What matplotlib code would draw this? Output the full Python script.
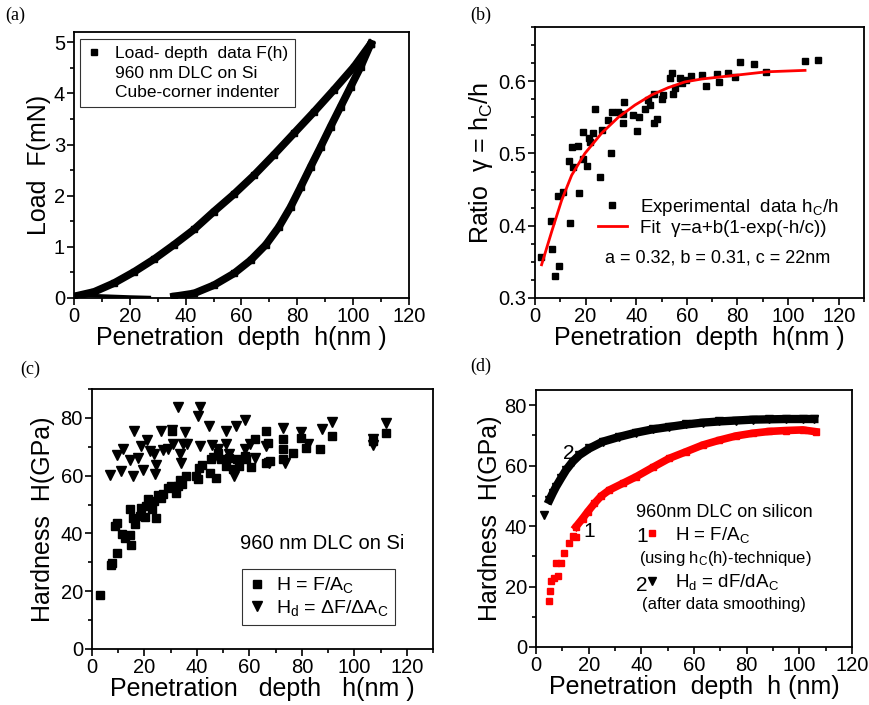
import matplotlib.pyplot as plt
from matplotlib.lines import Line2D
from matplotlib.ticker import MultipleLocator

plt.rcParams['font.family'] = ['Liberation Sans', 'DejaVu Sans']
plt.rcParams['mathtext.fontset'] = 'custom'
plt.rcParams['mathtext.rm'] = 'Liberation Sans'
plt.rcParams['mathtext.it'] = 'Liberation Sans:italic'
plt.rcParams['mathtext.default'] = 'regular'

# ---- (a) load-depth curve
load_h = [0, 7.2, 14.3, 21.5, 28.7, 35.8, 43.0, 50.1, 57.3, 64.5, 71.6, 78.8, 86.0, 93.1, 100.3, 106.3]
load_F = [0.03, 0.12, 0.29, 0.51, 0.76, 1.04, 1.34, 1.69, 2.03, 2.40, 2.80, 3.22, 3.64, 4.07, 4.52, 4.97]
unload_h = [106.3, 102.7, 99.1, 95.5, 91.9, 88.4, 84.8, 81.2, 77.6, 73.4, 68.7, 63.3, 57.3, 50.1, 43.0, 35.8]
unload_F = [4.97, 4.52, 4.13, 3.74, 3.35, 2.96, 2.57, 2.17, 1.78, 1.39, 1.04, 0.74, 0.48, 0.25, 0.09, 0.03]
tail_h = [0, 5, 10, 15, 20, 27]
tail_F = [0.03, 0.05, 0.04, 0.03, 0.02, 0.01]

# ---- (b) ratio hc/h
ratio_h = [2.4, 6.2, 6.7, 7.9, 9.6, 8.9, 11.2, 13.8, 13.4, 14.5, 14.9, 16.8, 17.4, 18.8, 19.1,
           20.6, 21.2, 21.7, 23.0, 23.8, 25.6, 26.3, 28.9, 29.9, 30.6, 32.9, 34.6, 35.1, 34.6,
           38.8, 40.4, 41.1, 43.4, 44.7, 45.3, 47.1, 47.1, 48.4, 50.3, 50.6, 53.5, 54.3, 54.6,
           55.3, 57.4, 58.1, 59.8, 61.8, 66.1, 67.4, 71.9, 72.7, 76.2, 78.9, 81.1, 86.4, 91.4,
           106.5, 112.0]
ratio_g = [0.357, 0.407, 0.368, 0.330, 0.344, 0.441, 0.446, 0.404, 0.490, 0.509, 0.481, 0.510,
           0.445, 0.492, 0.530, 0.482, 0.521, 0.516, 0.528, 0.562, 0.468, 0.532, 0.546, 0.501,
           0.558, 0.558, 0.542, 0.571, 0.555, 0.553, 0.531, 0.551, 0.562, 0.574, 0.567, 0.582,
           0.542, 0.548, 0.575, 0.581, 0.604, 0.611, 0.582, 0.590, 0.604, 0.598, 0.601, 0.607,
           0.608, 0.594, 0.610, 0.599, 0.611, 0.606, 0.626, 0.624, 0.613, 0.628, 0.629]
fit_h = [2.6, 6.6, 10.5, 14.5, 19.7, 26.3, 32.9, 39.5, 46.1, 52.6, 59.2, 65.8, 78.6, 91.5, 106.7]
fit_g = [0.346, 0.392, 0.435, 0.470, 0.500, 0.528, 0.550, 0.567, 0.581, 0.591, 0.599, 0.603,
         0.608, 0.613, 0.615]

# ---- (c) hardness scatter
sq_h = [3.2, 7.1, 7.7, 9.7, 8.6, 9.7, 11.6, 12.4, 14.3, 14.9, 14.6, 15.6, 16.3, 18.2, 18.8,
        20.1, 20.7, 21.3, 23.0, 23.5, 24.3, 25.1, 26.4, 27.0, 29.0, 30.6, 30.2, 31.9, 32.8,
        33.4, 34.4, 35.7, 39.5, 40.5, 40.8, 42.0, 44.8, 45.5, 47.4, 48.0, 49.3, 50.9, 52.4,
        53.7, 55.2, 56.0, 58.2, 58.8, 60.7, 62.1, 66.4, 67.1, 66.4, 67.7, 72.8, 72.8, 72.8,
        76.6, 79.7, 81.4, 87.0, 91.4, 107.0, 112.1]
sq_H = [18.6, 29.2, 29.6, 33.3, 42.5, 43.5, 39.7, 38.3, 39.4, 36.1, 48.3, 45.4, 43.1, 46.0,
        48.9, 45.8, 49.5, 51.8, 48.6, 51.2, 45.2, 53.2, 52.4, 53.8, 55.8, 75.3, 56.4, 54.1,
        56.4, 58.5, 57.2, 59.9, 59.9, 58.7, 62.8, 63.6, 61.0, 65.7, 59.3, 68.0, 65.7, 63.4,
        66.2, 62.2, 65.7, 63.4, 66.8, 65.7, 63.1, 72.6, 75.5, 71.4, 64.3, 65.1, 72.6, 69.1,
        65.7, 68.0, 73.2, 69.7, 69.4, 73.8, 72.0, 74.9]
tri_h = [7.0, 11.2, 9.5, 11.8, 14.6, 15.6, 16.0, 17.5, 19.4, 18.8, 21.1, 22.0, 23.5, 23.9,
         24.5, 26.4, 27.0, 29.0, 30.6, 30.9, 32.8, 33.4, 34.0, 34.7, 35.3, 36.2, 40.4, 41.1,
         41.1, 44.6, 45.8, 46.7, 48.0, 50.9, 51.2, 52.4, 54.3, 55.0, 58.5, 58.5, 60.1, 62.0,
         66.4, 67.4, 72.8, 73.5, 79.7, 82.3, 87.6, 91.5, 107.0, 107.0, 112.1]
tri_H = [60.1, 61.5, 67.1, 69.1, 65.4, 59.9, 75.5, 66.2, 62.0, 70.1, 72.3, 68.6, 67.4, 60.5,
         63.6, 75.5, 68.9, 69.1, 75.8, 70.9, 83.9, 67.4, 64.5, 70.9, 75.1, 70.9, 80.5, 83.6,
         70.3, 77.2, 70.5, 66.2, 69.1, 75.5, 70.9, 67.4, 59.9, 77.2, 79.2, 69.1, 70.9, 66.2,
         70.3, 64.5, 76.6, 64.5, 75.1, 70.9, 76.3, 78.6, 72.6, 70.5, 78.2]

# ---- (d) hardness curves
red_h = [5.1, 5.3, 5.7, 7.0, 7.6, 8.2, 9.5, 10.8, 12.7, 13.9, 15.2, 15.2, 17.7, 19.6, 22.2,
         24.7, 27.8, 32.9, 38.0, 44.3, 50.6, 57.0, 63.3, 69.6, 75.9, 82.3, 88.6, 94.9, 101.3, 106.3]
red_H = [15.3, 18.5, 21.9, 22.7, 27.9, 23.5, 27.7, 31.0, 34.3, 36.7, 36.5, 39.8, 42.5, 44.7, 47.5,
         49.9, 51.9, 54.1, 56.3, 59.4, 62.4, 64.6, 66.8, 68.4, 69.8, 70.7, 71.3, 71.6, 71.8, 71.2]
blk_h = [3.2, 5.1, 6.3, 7.6, 9.5, 11.4, 13.9, 16.5, 20.3, 25.3, 31.6, 38.0, 44.3, 50.6, 57.0,
         63.3, 69.6, 75.9, 82.3, 88.6, 94.9, 101.3, 105.7]
blk_H = [43.6, 48.6, 50.8, 53.0, 55.8, 58.5, 61.3, 63.5, 65.7, 67.9, 69.5, 70.9, 72.0, 72.8, 73.6,
         74.2, 74.6, 74.9, 75.2, 75.3, 75.4, 75.4, 75.4]

W, H = 869, 705
RED = '#ff0000'


def box(l, t, r, b):
    return [l / W, 1 - b / H, (r - l) / W, (b - t) / H]


def style(ax, xmin, ymaj, ymin):
    for s in ax.spines.values():
        s.set_linewidth(1.3)
    ax.xaxis.set_major_locator(MultipleLocator(20))
    ax.xaxis.set_minor_locator(MultipleLocator(xmin))
    ax.yaxis.set_major_locator(MultipleLocator(ymaj))
    ax.yaxis.set_minor_locator(MultipleLocator(ymin))
    ax.tick_params(which='both', direction='out', width=1.2, labelsize=14.5, pad=1.5)
    ax.tick_params(which='major', length=5)
    ax.tick_params(which='minor', length=3)


fig = plt.figure(figsize=(8.69, 7.05), dpi=100)

# ======================= (a)
ax = fig.add_axes(box(74, 32, 409, 298))
ax.plot(load_h, load_F, color='k', lw=5.5, marker='s', ms=4, solid_joinstyle='round')
ax.plot(unload_h, unload_F, color='k', lw=5.5, marker='s', ms=4, solid_joinstyle='round')
ax.plot(tail_h, tail_F, color='k', lw=2.5)
ax.set_xlim(0, 120)
ax.set_ylim(0, 5.2)
style(ax, 10, 1, 0.5)
ax.set_xlabel('Penetration  depth  h(nm )', fontsize=18, labelpad=0)
ax.set_ylabel('Load  F(mN)', fontsize=18, labelpad=2)
hs = [Line2D([], [], ls='none', marker='s', color='k', ms=4),
      Line2D([], [], ls='none'), Line2D([], [], ls='none')]
lg = ax.legend(hs, ['Load- depth  data F(h)', '960 nm DLC on Si', 'Cube-corner indenter'],
               loc='upper left', bbox_to_anchor=(0.018, 0.974), borderaxespad=0,
               fontsize=12.5, frameon=True, fancybox=False, edgecolor='k',
               labelspacing=0.25, handlelength=0.8, handletextpad=0.8, borderpad=0.4)
lg.get_frame().set_linewidth(0.8)
fig.text(5 / W, 1 - 15 / H, '(a)', family='Liberation Serif', fontsize=13, va='center')

# ======================= (b)
ax = fig.add_axes(box(535, 27, 864, 298))
ax.plot(ratio_h, ratio_g, 's', color='k', ms=4.8)
ax.plot(fit_h, fit_g, color=RED, lw=2)
ax.set_xlim(0, 130)
ax.set_ylim(0.3, 0.675)
style(ax, 10, 0.1, 0.025)
ax.set_xlabel('Penetration  depth  h(nm )', fontsize=18, labelpad=0)
ax.set_ylabel('Ratio  γ = h$_\\mathrm{C}$/h', fontsize=18, labelpad=2)
hs = [Line2D([], [], ls='none', marker='s', color='k', ms=4.8),
      Line2D([], [], color=RED, lw=2)]
ax.legend(hs, ['Experimental  data h$_\\mathrm{C}$/h', 'Fit  γ=a+b(1-exp(-h/c))'],
          loc='center left', bbox_to_anchor=(0.17, 0.30), borderaxespad=0,
          fontsize=13.5, frameon=False, labelspacing=0.1, handlelength=1.5,
          handletextpad=0.7)
ax.text(0.555, 0.148, 'a = 0.32, b = 0.31, c = 22nm', transform=ax.transAxes,
        ha='center', va='center', fontsize=13)
fig.text(470 / W, 1 - 15 / H, '(b)', family='Liberation Serif', fontsize=13, va='center')

# ======================= (c)
ax = fig.add_axes(box(92, 389, 433, 649))
ax.plot(sq_h, sq_H, 's', color='k', ms=5.5)
ax.plot(tri_h, tri_H, 'v', color='k', ms=6.5)
ax.set_xlim(0, 130)
ax.set_ylim(0, 90)
style(ax, 10, 20, 10)
ax.set_xlabel('Penetration   depth   h(nm )', fontsize=18, labelpad=0)
ax.set_ylabel('Hardness  H(GPa)', fontsize=18, labelpad=4)
ax.text(0.676, 0.404, '960 nm DLC on Si', transform=ax.transAxes,
        ha='center', va='center', fontsize=14.5)
hs = [Line2D([], [], ls='none', marker='s', color='k', ms=5.5),
      Line2D([], [], ls='none', marker='v', color='k', ms=6.5)]
lg = ax.legend(hs, ['H = F/A$_\\mathrm{C}$', 'H$_\\mathrm{d}$ = ΔF/ΔA$_\\mathrm{C}$'],
               loc='lower left', bbox_to_anchor=(0.44, 0.092), borderaxespad=0,
               fontsize=14, frameon=True, fancybox=False, edgecolor='k',
               labelspacing=0.15, handlelength=0.8, handletextpad=0.6, borderpad=0.35)
lg.get_frame().set_linewidth(0.8)
fig.text(20 / W, 1 - 369 / H, '(c)', family='Liberation Serif', fontsize=13, va='center')

# ======================= (d)
ax = fig.add_axes(box(536, 390, 852, 647))
n_sparse = 11
ax.plot(red_h[:n_sparse], red_H[:n_sparse], 's', color=RED, ms=4.8)
ax.plot(red_h[n_sparse:], red_H[n_sparse:], color=RED, lw=5.5, marker='s', ms=4.8)
ax.plot(blk_h[:1], blk_H[:1], 'v', color='k', ms=5.5)
ax.plot(blk_h[1:], blk_H[1:], color='k', lw=6, marker='v', ms=5.5)
ax.set_xlim(0, 120)
ax.set_ylim(0, 85)
style(ax, 10, 20, 10)
ax.set_xlabel('Penetration  depth  h (nm)', fontsize=18, labelpad=0)
ax.set_ylabel('Hardness  H(GPa)', fontsize=18, labelpad=2)
ax.text(12.5, 64.1, '2', fontsize=15, ha='center', va='center')
ax.text(20.2, 38.1, '1', fontsize=15, ha='center', va='center')
ax.text(0.595, 0.523, '960nm DLC on silicon', transform=ax.transAxes,
        ha='center', va='center', fontsize=13)
hs = [Line2D([], [], ls='none', marker='s', color=RED, ms=4.8),
      Line2D([], [], ls='none', marker='v', color='k', ms=5.5)]
ax.legend(hs, ['H = F/A$_\\mathrm{C}$', 'H$_\\mathrm{d}$ = dF/dA$_\\mathrm{C}$'],
          loc='upper left', bbox_to_anchor=(0.35, 0.475), borderaxespad=0,
          fontsize=13.5, frameon=False, labelspacing=1.45, handlelength=0.6,
          handletextpad=0.9, borderpad=0)
ax.text(0.335, 0.43, '1', transform=ax.transAxes, ha='center', va='center', fontsize=15)
ax.text(0.335, 0.240, '2', transform=ax.transAxes, ha='center', va='center', fontsize=15)
ax.text(0.600, 0.345, '(using h$_\\mathrm{C}$(h)-technique)', transform=ax.transAxes,
        ha='center', va='center', fontsize=12)
ax.text(0.595, 0.165, '(after data smoothing)', transform=ax.transAxes,
        ha='center', va='center', fontsize=12)
fig.text(470 / W, 1 - 366 / H, '(d)', family='Liberation Serif', fontsize=13, va='center')

fig.savefig('out.png', dpi=100)
